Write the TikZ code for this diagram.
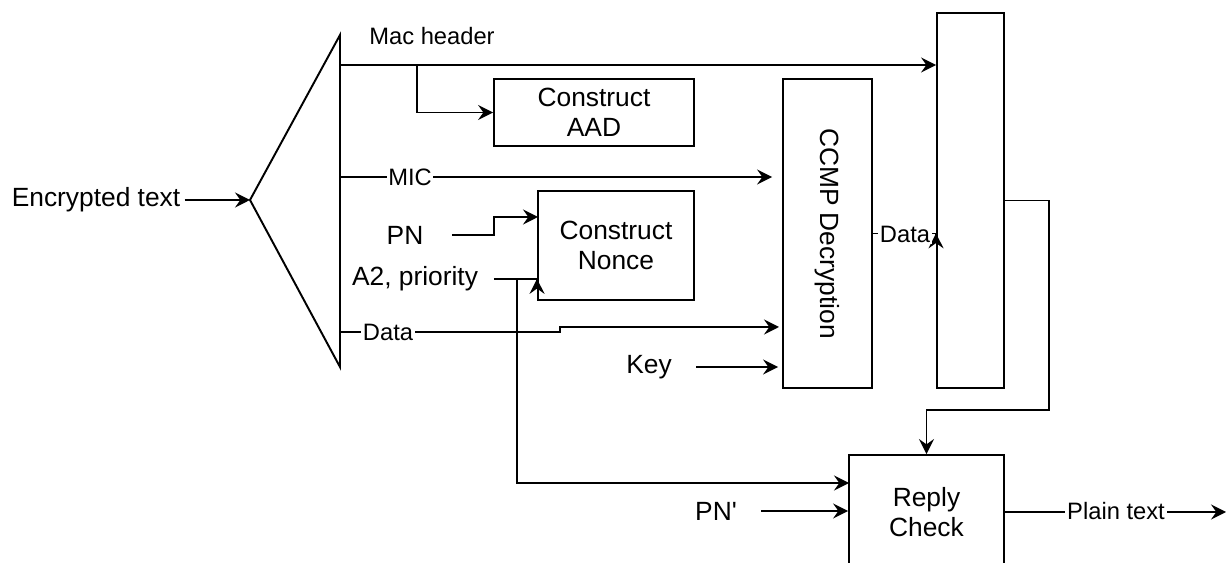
\documentclass[tikz,border=0pt]{standalone}
\usepackage{fontspec}
\setmainfont{Liberation Sans}[Ligatures=TeXOff]
\usetikzlibrary{arrows.meta, calc}

\begin{document}
\begin{tikzpicture}[x=0.02cm, y=-0.02cm, line width=1.1pt,
  box/.style={draw, align=center, inner sep=0pt, font=\fontsize{15}{17}\selectfont},
  txt/.style={inner sep=2pt, font=\fontsize{15}{17}\selectfont},
  lbl/.style={fill=white, inner sep=1pt, font=\fontsize{13.5}{15}\selectfont},
  arr/.style={-{Stealth[length=8.5pt, width=8.5pt, inset=3pt]}}]
  \useasboundingbox (0,0) rectangle (1228,563);

  % Blocks
  \node[box, minimum width=4cm, minimum height=1.34cm] (aad) at (594,112.5) {Construct\\AAD};
  \node[box, minimum width=3.12cm, minimum height=2.18cm] (nonce) at (616,245.5) {Construct\\Nonce};
  \node[box, minimum width=1.78cm, minimum height=6.18cm] (ccmp) at (827.5,233.5) {\rotatebox{-90}{CCMP Decryption}};
  \node[box, minimum width=1.34cm, minimum height=7.5cm] (buf) at (970.5,200.5) {};
  \node[box, minimum width=3.1cm, minimum height=2.28cm] (reply) at (926.5,512) {Reply\\Check};

  % Splitter
  \coordinate (split) at (250,200);
  \draw (340,35) -- (split) -- (340,367) -- cycle;

  % Inputs
  \node[txt] (enc) at (96,200) {Encrypted text};
  \node[txt] (pn) at (405,235) {PN};
  \node[txt] (a2) at (415,279) {A2, priority};
  \node[txt] (key) at (649,367) {Key};
  \node[txt] (pnp) at (716,511) {PN'};

  \coordinate (mh) at (340,65);
  \coordinate (mhb) at (417,65);
  \coordinate (micl) at (340,177);
  \coordinate (datal) at (340,332);
  \coordinate (ccmpd) at (783,327);
  \coordinate (pnin) at (538,217);
  \coordinate (a2j) at (517,279);
  \coordinate (rcin) at (849,483);
  \coordinate (ptend) at (1226,510);

  % Connections
  \draw[arr] (enc) -- (split);
  \draw[arr] (mh) -- (mh -| buf.west);
  \draw[arr] (mhb) |- (aad.west);
  \draw[arr, shorten >=0.2cm] (micl) -- (micl -| ccmp.west);
  \draw[arr, shorten <=0.48cm] (pn.east) -- (494,235) |- (pnin);
  \draw[shorten <=0.23cm] (a2.east) -- (a2j);
  \draw[arr] (a2j) -- (a2j -| nonce.west) -- ++(0,-0.1);
  \draw[arr] (a2j) |- (rcin);
  \draw[arr, shorten >=0.08cm] (datal) -- ++(220,0) |- (ccmpd);
  \draw[arr, shorten <=0.4cm, shorten >=0.08cm] (key.east) -- (key.east -| ccmp.west);
  \draw[arr] (ccmp.east) -- (ccmp.east -| buf.west) -- ++(0,-0.1);
  \draw[arr] (buf.east) -| (1049,410) -| (reply.north);
  \draw[arr, shorten <=0.4cm] (pnp.east) -- (pnp.east -| reply.west);
  \draw[arr] (reply.east) -- (reply.east -| ptend);

  % Line labels
  \node[lbl] (machdr) at (432,36) {Mac header};
  \node[lbl] (mic) at (410,177) {MIC};
  \node[lbl] (datain) at (388,332) {Data};
  \node[lbl] (dataout) at (905,234) {Data};
  \node[lbl] (plain) at (1116,511) {Plain text};
\end{tikzpicture}
\end{document}
